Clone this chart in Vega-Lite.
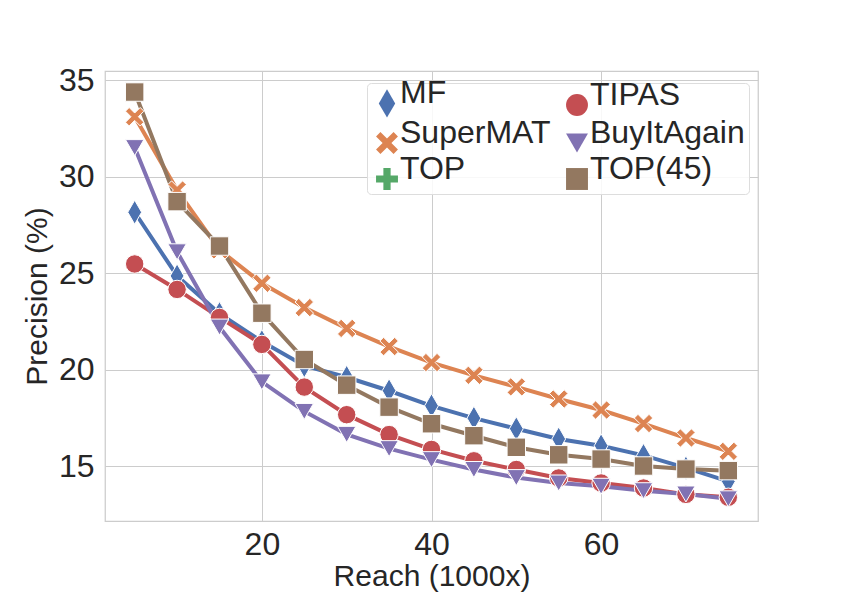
{
  "$schema": "https://vega.github.io/schema/vega-lite/v6.json",
  "autosize": "none",
  "width": 653,
  "height": 450,
  "padding": {"left": 105, "top": 71, "right": 84, "bottom": 74},
  "background": "white",
  "config": {
    "view": {"stroke": "#cccccc", "strokeWidth": 1.25},
    "font": "Liberation Sans",
    "axis": {
      "labelFont": "Liberation Sans",
      "titleFont": "Liberation Sans",
      "labelColor": "#262626",
      "titleColor": "#262626",
      "gridColor": "#cccccc",
      "gridWidth": 1,
      "domain": false,
      "ticks": false,
      "tickSize": 0,
      "labelFontSize": 32,
      "titleFontSize": 30,
      "titleFontWeight": "normal"
    },
    "legend": {
      "labelFont": "Liberation Sans",
      "labelColor": "#262626"
    }
  },
  "data": {
    "values": [
      {"series": "MF", "reach": 5, "precision": 28.15},
      {"series": "MF", "reach": 10, "precision": 24.85},
      {"series": "MF", "reach": 15, "precision": 22.9},
      {"series": "MF", "reach": 20, "precision": 21.45},
      {"series": "MF", "reach": 25, "precision": 20.2},
      {"series": "MF", "reach": 30, "precision": 19.6},
      {"series": "MF", "reach": 35, "precision": 18.9},
      {"series": "MF", "reach": 40, "precision": 18.12},
      {"series": "MF", "reach": 45, "precision": 17.48},
      {"series": "MF", "reach": 50, "precision": 16.93},
      {"series": "MF", "reach": 55, "precision": 16.4},
      {"series": "MF", "reach": 60, "precision": 16.05},
      {"series": "MF", "reach": 65, "precision": 15.55},
      {"series": "MF", "reach": 70, "precision": 14.9},
      {"series": "MF", "reach": 75, "precision": 14.2},
      {"series": "SuperMAT", "reach": 5, "precision": 33.1},
      {"series": "SuperMAT", "reach": 10, "precision": 29.3},
      {"series": "SuperMAT", "reach": 15, "precision": 26.2},
      {"series": "SuperMAT", "reach": 20, "precision": 24.47},
      {"series": "SuperMAT", "reach": 25, "precision": 23.21},
      {"series": "SuperMAT", "reach": 30, "precision": 22.13},
      {"series": "SuperMAT", "reach": 35, "precision": 21.19},
      {"series": "SuperMAT", "reach": 40, "precision": 20.36},
      {"series": "SuperMAT", "reach": 45, "precision": 19.7},
      {"series": "SuperMAT", "reach": 50, "precision": 19.1},
      {"series": "SuperMAT", "reach": 55, "precision": 18.47},
      {"series": "SuperMAT", "reach": 60, "precision": 17.9},
      {"series": "SuperMAT", "reach": 65, "precision": 17.2},
      {"series": "SuperMAT", "reach": 70, "precision": 16.45},
      {"series": "SuperMAT", "reach": 75, "precision": 15.76},
      {"series": "TIPAS", "reach": 5, "precision": 25.47},
      {"series": "TIPAS", "reach": 10, "precision": 24.15},
      {"series": "TIPAS", "reach": 15, "precision": 22.7},
      {"series": "TIPAS", "reach": 20, "precision": 21.3},
      {"series": "TIPAS", "reach": 25, "precision": 19.09},
      {"series": "TIPAS", "reach": 30, "precision": 17.66},
      {"series": "TIPAS", "reach": 35, "precision": 16.63},
      {"series": "TIPAS", "reach": 40, "precision": 15.86},
      {"series": "TIPAS", "reach": 45, "precision": 15.27},
      {"series": "TIPAS", "reach": 50, "precision": 14.82},
      {"series": "TIPAS", "reach": 55, "precision": 14.38},
      {"series": "TIPAS", "reach": 60, "precision": 14.12},
      {"series": "TIPAS", "reach": 65, "precision": 13.86},
      {"series": "TIPAS", "reach": 70, "precision": 13.53},
      {"series": "TIPAS", "reach": 75, "precision": 13.38},
      {"series": "BuyItAgain", "reach": 5, "precision": 31.5},
      {"series": "BuyItAgain", "reach": 10, "precision": 26.1},
      {"series": "BuyItAgain", "reach": 15, "precision": 22.2},
      {"series": "BuyItAgain", "reach": 20, "precision": 19.36},
      {"series": "BuyItAgain", "reach": 25, "precision": 17.83},
      {"series": "BuyItAgain", "reach": 30, "precision": 16.64},
      {"series": "BuyItAgain", "reach": 35, "precision": 15.9},
      {"series": "BuyItAgain", "reach": 40, "precision": 15.33},
      {"series": "BuyItAgain", "reach": 45, "precision": 14.82},
      {"series": "BuyItAgain", "reach": 50, "precision": 14.4},
      {"series": "BuyItAgain", "reach": 55, "precision": 14.12},
      {"series": "BuyItAgain", "reach": 60, "precision": 13.95},
      {"series": "BuyItAgain", "reach": 65, "precision": 13.72},
      {"series": "BuyItAgain", "reach": 70, "precision": 13.55},
      {"series": "BuyItAgain", "reach": 75, "precision": 13.3},
      {"series": "TOP(45)", "reach": 5, "precision": 34.38},
      {"series": "TOP(45)", "reach": 10, "precision": 28.7},
      {"series": "TOP(45)", "reach": 15, "precision": 26.4},
      {"series": "TOP(45)", "reach": 20, "precision": 22.92},
      {"series": "TOP(45)", "reach": 25, "precision": 20.52},
      {"series": "TOP(45)", "reach": 30, "precision": 19.19},
      {"series": "TOP(45)", "reach": 35, "precision": 18.05},
      {"series": "TOP(45)", "reach": 40, "precision": 17.19},
      {"series": "TOP(45)", "reach": 45, "precision": 16.57},
      {"series": "TOP(45)", "reach": 50, "precision": 15.97},
      {"series": "TOP(45)", "reach": 55, "precision": 15.58},
      {"series": "TOP(45)", "reach": 60, "precision": 15.36},
      {"series": "TOP(45)", "reach": 65, "precision": 15.0},
      {"series": "TOP(45)", "reach": 70, "precision": 14.84},
      {"series": "TOP(45)", "reach": 75, "precision": 14.76}
    ]
  },
  "encoding": {
    "x": {
      "field": "reach",
      "type": "quantitative",
      "scale": {"domain": [1.5, 78.5], "nice": false, "zero": false},
      "axis": {
        "values": [20, 40, 60],
        "title": "Reach (1000x)",
        "labelPadding": 8,
        "titleBaseline": "alphabetic",
        "titleY": 64,
        "titleX": 326.5,
        "titleAlign": "center"
      }
    },
    "y": {
      "field": "precision",
      "type": "quantitative",
      "scale": {"domain": [12.15, 35.47], "nice": false, "zero": false},
      "axis": {
        "values": [15, 20, 25, 30, 35],
        "title": "Precision (%)",
        "labelPadding": 11,
        "titleAngle": -90,
        "titleBaseline": "alphabetic",
        "titleAlign": "center",
        "titleX": -59,
        "titleY": 225
      }
    },
    "color": {
      "field": "series",
      "type": "nominal",
      "scale": {
        "domain": ["MF", "SuperMAT", "TOP", "TIPAS", "BuyItAgain", "TOP(45)"],
        "range": ["#4c72b0", "#dd8452", "#55a868", "#c44e52", "#8172b3", "#937860"]
      },
      "legend": {
        "title": null,
        "orient": "none",
        "legendX": 262,
        "legendY": 12,
        "columns": 2,
        "columnPadding": 10,
        "rowPadding": -1,
        "padding": 4,
        "labelFontSize": 32,
        "labelLimit": 300,
        "labelOffset": -3,
        "labelBaseline": "alphabetic",
        "symbolSize": 480,
        "symbolStrokeWidth": 0,
        "symbolOpacity": 1,
        "fillColor": "rgba(255,255,255,0.85)",
        "strokeColor": "#dddddd",
        "cornerRadius": 4
      }
    }
  },
  "layer": [
    {
      "mark": {"type": "line", "strokeWidth": 4},
      "encoding": {
        "order": {"field": "reach", "type": "quantitative"}
      }
    },
    {
      "mark": {"type": "point", "filled": true, "opacity": 1, "size": 340, "stroke": "white", "strokeWidth": 1},
      "encoding": {
        "shape": {
          "field": "series",
          "type": "nominal",
          "scale": {
            "domain": ["MF", "SuperMAT", "TOP", "TIPAS", "BuyItAgain", "TOP(45)"],
            "range": [
              "M0,-1.3L0.75,0L0,1.3L-0.75,0Z",
              "M-1,-0.6L-0.6,-1L0,-0.4L0.6,-1L1,-0.6L0.4,0L1,0.6L0.6,1L0,0.4L-0.6,1L-1,0.6L-0.4,0Z",
              "M-0.33,-1L0.33,-1L0.33,-0.33L1,-0.33L1,0.33L0.33,0.33L0.33,1L-0.33,1L-0.33,0.33L-1,0.33L-1,-0.33L-0.33,-0.33Z",
              "circle",
              "triangle-down",
              "square"
            ]
          },
          "legend": {
            "title": null,
            "orient": "none",
            "legendX": 262,
            "legendY": 12,
            "columns": 2,
            "columnPadding": 10,
            "rowPadding": -1,
            "padding": 4,
            "labelFontSize": 32,
            "labelLimit": 300,
            "labelOffset": -3,
            "labelBaseline": "alphabetic",
            "symbolSize": 480,
            "symbolStrokeWidth": 0,
            "symbolOpacity": 1,
            "fillColor": "rgba(255,255,255,0.85)",
            "strokeColor": "#dddddd",
            "cornerRadius": 4
          }
        }
      }
    }
  ]
}
